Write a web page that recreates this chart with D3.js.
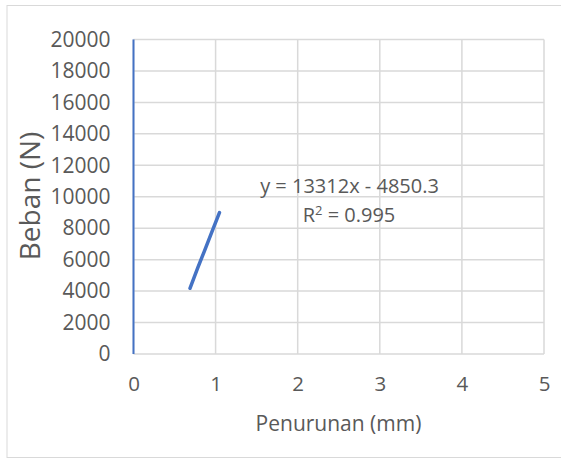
<!DOCTYPE html>
<html><head><meta charset="utf-8">
<script src="https://cdn.jsdelivr.net/npm/d3@7"></script>
<style>body{margin:0;background:#fff}svg{display:block}</style>
</head><body>
<script>
const xData = [0.688, 0.78, 0.86, 0.95, 1.047];
const yData = [4180, 5450, 6500, 7700, 8990];
const axisLineX = [0, 0];
const axisLineY = [0, 20000];
const xTicks = [0, 1, 2, 3, 4, 5];
const yTicks = [0, 2000, 4000, 6000, 8000, 10000, 12000, 14000, 16000, 18000, 20000];
const equationText = "y = 13312x - 4850.3";
const r2Text = ["R", "2", " = 0.995"];
const xTitle = "Penurunan (mm)";
const yTitle = "Beban (N)";

const W = 561, H = 459;
const font = "'Open Sans', sans-serif";
const txt = "#595959";
const svg = d3.select("body").append("svg").attr("width", W).attr("height", H);
svg.append("rect").attr("x", 7).attr("y", 5.5).attr("width", 560).attr("height", 452)
  .attr("fill", "#fff").attr("stroke", "#d9d9d9").attr("stroke-width", 1);

const x = d3.scaleLinear().domain([0, 5]).range([133.5, 544]);
const y = d3.scaleLinear().domain([0, 20000]).range([354, 39.5]);

const g = svg.append("g");
g.selectAll(".hg").data(yTicks).join("line")
  .attr("x1", x(0)).attr("x2", x(5)).attr("y1", d => y(d)).attr("y2", d => y(d))
  .attr("stroke", "#d9d9d9").attr("stroke-width", 1.5);
g.selectAll(".vg").data(xTicks).join("line")
  .attr("y1", y(0)).attr("y2", y(20000)).attr("x1", d => x(d)).attr("x2", d => x(d))
  .attr("stroke", "#d9d9d9").attr("stroke-width", 1.5);

const yAxis = d3.axisLeft(y).tickValues(yTicks).tickSize(0).tickPadding(23).tickFormat(d3.format("d"));
const ya = svg.append("g").attr("transform", `translate(${x(0)},0)`).call(yAxis);
ya.select(".domain").remove();
ya.selectAll("text").attr("fill", txt).attr("font-family", font).attr("font-size", 21);

const xAxis = d3.axisBottom(x).tickValues(xTicks).tickSize(0).tickPadding(22).tickFormat(d3.format("d"));
const xa = svg.append("g").attr("transform", `translate(0,${y(0)})`).call(xAxis);
xa.select(".domain").remove();
xa.selectAll("text").attr("fill", txt).attr("font-family", font).attr("font-size", 20.5);

const line = d3.line().x(d => x(d[0])).y(d => y(d[1]));
svg.append("path").datum(d3.zip(axisLineX, axisLineY)).attr("d", line)
  .attr("fill", "none").attr("stroke", "#4472c4").attr("stroke-width", 2);

svg.append("path").datum(d3.zip(xData, yData)).attr("d", line)
  .attr("fill", "none").attr("stroke", "#4472c4").attr("stroke-width", 3.5)
  .attr("stroke-linecap", "round").attr("stroke-linejoin", "round");

svg.append("text").attr("x", 349.5).attr("y", 192.5).attr("text-anchor", "middle")
  .attr("font-family", font).attr("font-size", 20).attr("fill", txt).text(equationText);
const r2 = svg.append("text").attr("x", 349).attr("y", 221.5).attr("text-anchor", "middle")
  .attr("font-family", font).attr("font-size", 20).attr("fill", txt);
r2.append("tspan").text(r2Text[0]);
r2.append("tspan").attr("dy", -7).attr("font-size", 13).text(r2Text[1]);
r2.append("tspan").attr("dy", 7).text(r2Text[2]);

svg.append("text").attr("x", 338.5).attr("y", 430.5).attr("text-anchor", "middle")
  .attr("font-family", font).attr("font-size", 21).attr("fill", txt).text(xTitle);
svg.append("text").attr("transform", "translate(40,196) rotate(-90)").attr("text-anchor", "middle")
  .attr("font-family", font).attr("font-size", 28).attr("fill", txt).text(yTitle);
</script>
</body></html>
